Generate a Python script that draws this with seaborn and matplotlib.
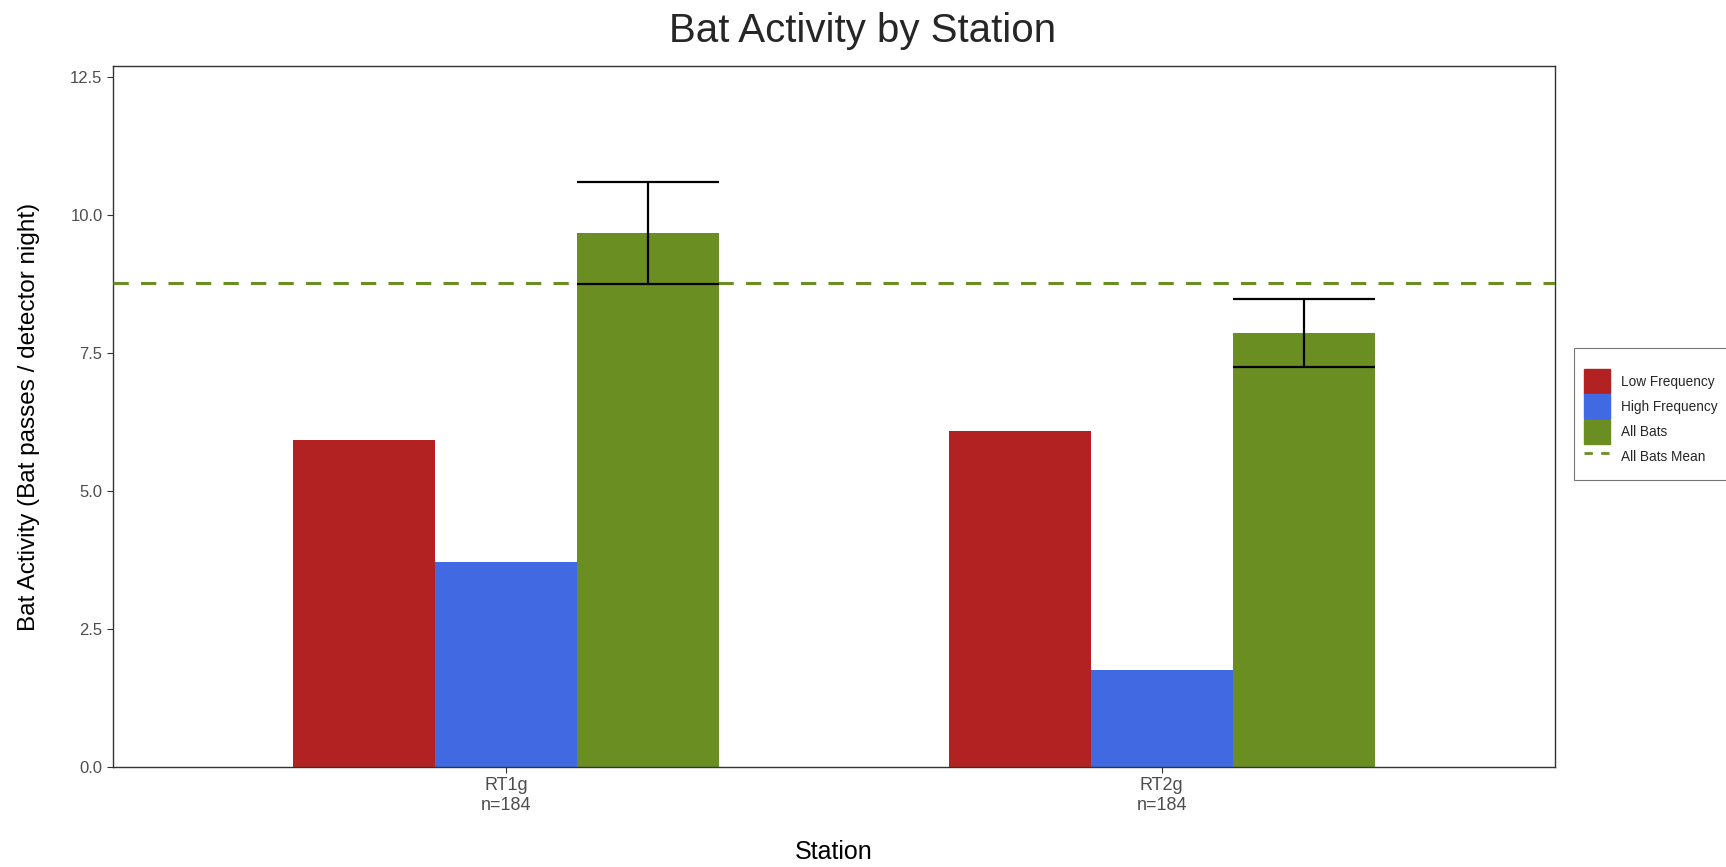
import matplotlib
matplotlib.use("Agg")
import matplotlib.pyplot as plt
import matplotlib.patches as mpatches
import matplotlib.lines as mlines
import pandas as pd
import seaborn as sns

sns.set_theme(style="white")
plt.rcParams["font.family"] = ["Liberation Sans", "DejaVu Sans"]

# values
stations = ["RT1g\nn=184", "RT2g\nn=184"]
groups = ["Low Frequency", "High Frequency", "All Bats"]
low_freq = [5.92, 6.08]
high_freq = [3.71, 1.75]
all_bats = [9.67, 7.86]
all_err_low = [8.75, 7.24]
all_err_high = [10.59, 8.48]
all_bats_mean = 8.76

colors = {"Low Frequency": "#B22222", "High Frequency": "#4169E1", "All Bats": "#6B8E23"}

df = pd.DataFrame({
    "station": stations * 3,
    "group": [g for g in groups for _ in stations],
    "activity": low_freq + high_freq + all_bats,
})

fig = plt.figure(figsize=(17.26, 8.67), dpi=100)
ax = fig.add_axes([113 / 1726, 1 - 767 / 867, (1555 - 113) / 1726, (767 - 66) / 867])

sns.barplot(data=df, x="station", y="activity", hue="group", hue_order=groups,
            palette=colors, width=0.65, gap=0, errorbar=None, saturation=1,
            linewidth=0, ax=ax, legend=False)

# error bars on the All Bats bars, caps spanning the full bar width
for bar, lo, hi in zip(ax.containers[2], all_err_low, all_err_high):
    x0, w = bar.get_x(), bar.get_width()
    ax.hlines([lo, hi], x0, x0 + w, color="black", linewidth=1.6, zorder=4)
    ax.vlines(x0 + w / 2, lo, hi, color="black", linewidth=1.6, zorder=4)

ax.axhline(all_bats_mean, color="#6B8E23", linestyle=(0, (5, 4)), linewidth=2.2, zorder=3)

ax.set_xlim(-0.6, 1.6)
ax.set_ylim(0, 12.7)
ax.set_yticks([0, 2.5, 5, 7.5, 10, 12.5])
ax.set_yticklabels(["0.0", "2.5", "5.0", "7.5", "10.0", "12.5"])
ax.tick_params(axis="both", which="both", length=4, width=0.8, colors="#333333",
               labelcolor="#4D4D4D", labelsize=12, left=True, bottom=True)
ax.tick_params(axis="x", labelsize=13)
for s in ax.spines.values():
    s.set_color("#333333")
    s.set_linewidth(1.0)
    s.set_visible(True)

ax.set_xlabel("Station", fontsize=18, color="black", labelpad=19)
ax.set_ylabel("Bat Activity (Bat passes / detector night)", fontsize=17.5, color="black", labelpad=22)
fig.suptitle("Bat Activity by Station", fontsize=29, y=1 - 31 / 867, va="center")

handles = [mpatches.Patch(color=colors[g], label=g) for g in groups]
handles.append(mlines.Line2D([], [], color="#6B8E23", linestyle=(0, (3, 3)), linewidth=2,
                             label="All Bats Mean"))
leg = fig.legend(handles=handles, loc="center left", bbox_to_anchor=(1574 / 1726, 1 - 414 / 867),
                 frameon=True, fontsize=9.8, handlelength=1.9, handleheight=2.4,
                 handletextpad=0.8, labelspacing=0.05, borderpad=0.75, borderaxespad=0,
                 fancybox=False, title=" ", title_fontsize=8)
leg.get_frame().set_edgecolor("#555555")
leg.get_frame().set_linewidth(0.8)

fig.savefig("out.png", dpi=100)
